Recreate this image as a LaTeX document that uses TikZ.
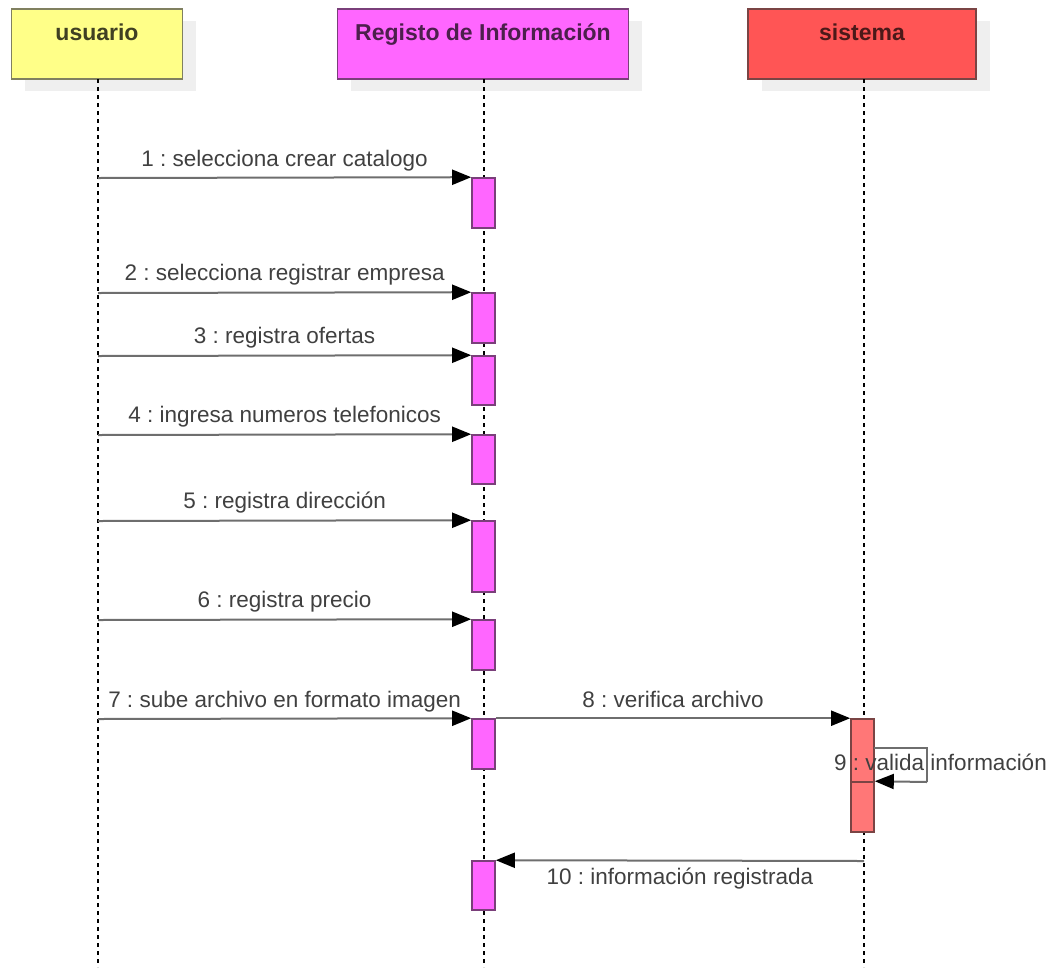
\documentclass[tikz,border=0pt]{standalone}
\usepackage{fontspec}
\setmainfont{Liberation Sans}
\usetikzlibrary{arrows.meta}
\frenchspacing
\definecolor{uyel}{HTML}{FFFF88}
\definecolor{uyelb}{HTML}{808060}
\definecolor{rmag}{HTML}{FF66FF}
\definecolor{rmagb}{HTML}{7A3F7A}
\definecolor{sred}{HTML}{FF5555}
\definecolor{sredb}{HTML}{7A4444}
\definecolor{sact}{HTML}{FF7777}
\definecolor{msgc}{HTML}{6E6E6E}
\definecolor{txtc}{HTML}{404040}
\definecolor{shadowc}{HTML}{EFEFEF}
\tikzset{
  x=1pt, y=-1pt,
  header/.style={draw, line width=1.8pt, rectangle, inner sep=0pt, minimum height=70pt},
  htext/.style={font=\fontsize{23}{27}\selectfont\bfseries, anchor=base, inner sep=0pt},
  shadowbox/.style={fill=shadowc, draw=none, rectangle, inner sep=0pt, minimum height=70pt},
  lifeline/.style={black, line width=1.2pt, dash pattern=on 4pt off 4pt},
  actbox/.style={draw=rmagb, fill=rmag, line width=1.6pt, rectangle, inner sep=0pt, minimum width=23pt},
  sactbox/.style={draw=sredb, fill=sact, line width=1.6pt, rectangle, inner sep=0pt, minimum width=23pt},
  msg/.style={draw=msgc, line width=2pt, -{Triangle[length=19pt,width=15pt,fill=black,color=black]}},
  lbl/.style={font=\fontsize{22.5}{27}\selectfont, text=txtc, inner sep=0pt, anchor=base}
}
\begin{document}
\begin{tikzpicture}
\useasboundingbox (0,0) rectangle (1057,967);
% shadows
\node[shadowbox, minimum width=171pt] (ush) at (110,56) {};
\node[shadowbox, minimum width=291pt] (rsh) at (496,56) {};
\node[shadowbox, minimum width=228pt] (ssh) at (876,56) {};
% headers
\node[header, fill=uyel, draw=uyelb, minimum width=171pt] (u) at (97,44) {};
\node[header, fill=rmag, draw=rmagb, minimum width=291pt] (r) at (483,44) {};
\node[header, fill=sred, draw=sredb, minimum width=228pt] (s) at (862,44) {};
\node[htext, text=uyel!25!black] (ut) at (97,40) {usuario};
\node[htext, text=rmag!30!black] (rt) at (483,40) {Registo de Información};
\node[htext, text=sred!30!black] (st) at (862,40) {sistema};
% lifeline ends
\coordinate (ue) at (98,967);
\coordinate (re) at (484,967);
\coordinate (se) at (864,967);
\coordinate (us) at (98,79);
\coordinate (rs) at (484,79);
\coordinate (ss) at (864,79);
\draw[lifeline] (us) -- (ue);
\draw[lifeline] (rs) -- (re);
\draw[lifeline] (ss) -- (se);
% activation boxes
\node[actbox, minimum height=50pt] (a1) at (483.5,203) {};
\node[actbox, minimum height=50pt] (a2) at (483.5,318) {};
\node[actbox, minimum height=49pt] (a3) at (483.5,380.5) {};
\node[actbox, minimum height=49pt] (a4) at (483.5,459.5) {};
\node[actbox, minimum height=71pt] (a5) at (483.5,556.5) {};
\node[actbox, minimum height=50pt] (a6) at (483.5,645) {};
\node[actbox, minimum height=50pt] (a7) at (483.5,744) {};
\node[actbox, minimum height=49pt] (a8) at (483.5,885.5) {};
\node[sactbox, minimum height=113pt] (s1) at (862.5,775.5) {};
\node[sactbox, minimum height=50pt] (s2) at (862.5,807) {};
% message start points on usuario lifeline
\coordinate (m1) at (98,178);
\coordinate (m2) at (98,293);
\coordinate (m3) at (98,356);
\coordinate (m4) at (98,435);
\coordinate (m5) at (98,521);
\coordinate (m6) at (98,620);
\coordinate (m7) at (98,719);
\draw[msg] (m1) -- (a1.north west) node[lbl, midway, yshift=11pt] {1 : selecciona crear catalogo};
\draw[msg] (m2) -- (a2.north west) node[lbl, midway, yshift=12pt] {2 : selecciona registrar empresa};
\draw[msg] (m3) -- (a3.north west) node[lbl, midway, yshift=12pt] {3 : registra ofertas};
\draw[msg] (m4) -- (a4.north west) node[lbl, midway, yshift=12pt] {4 : ingresa numeros telefonicos};
\draw[msg] (m5) -- (a5.north west) node[lbl, midway, yshift=12pt] {5 : registra dirección};
\draw[msg] (m6) -- (a6.north west) node[lbl, midway, yshift=12pt] {6 : registra precio};
\draw[msg] (m7) -- (a7.north west) node[lbl, midway, yshift=11pt] {7 : sube archivo en formato imagen};
\draw[msg] (a7.north east) -- (s1.north west) node[lbl, midway, yshift=11pt] {8 : verifica archivo};
% self message
\coordinate (l9a) at (874,748);
\coordinate (l9b) at (927,748);
\coordinate (l9c) at (927,782);
\draw[draw=msgc, line width=2pt] (l9a) -- (l9b) -- (l9c);
\draw[msg] (l9c) -- (s2.north east);
\node[lbl, anchor=base west] (t9) at (834,770) {9 : valida información};
% return
\coordinate (m10) at (864,861);
\draw[msg] (m10) -- (a8.north east) node[lbl, midway, yshift=-24pt] {10 : información registrada};
\end{tikzpicture}
\end{document}
